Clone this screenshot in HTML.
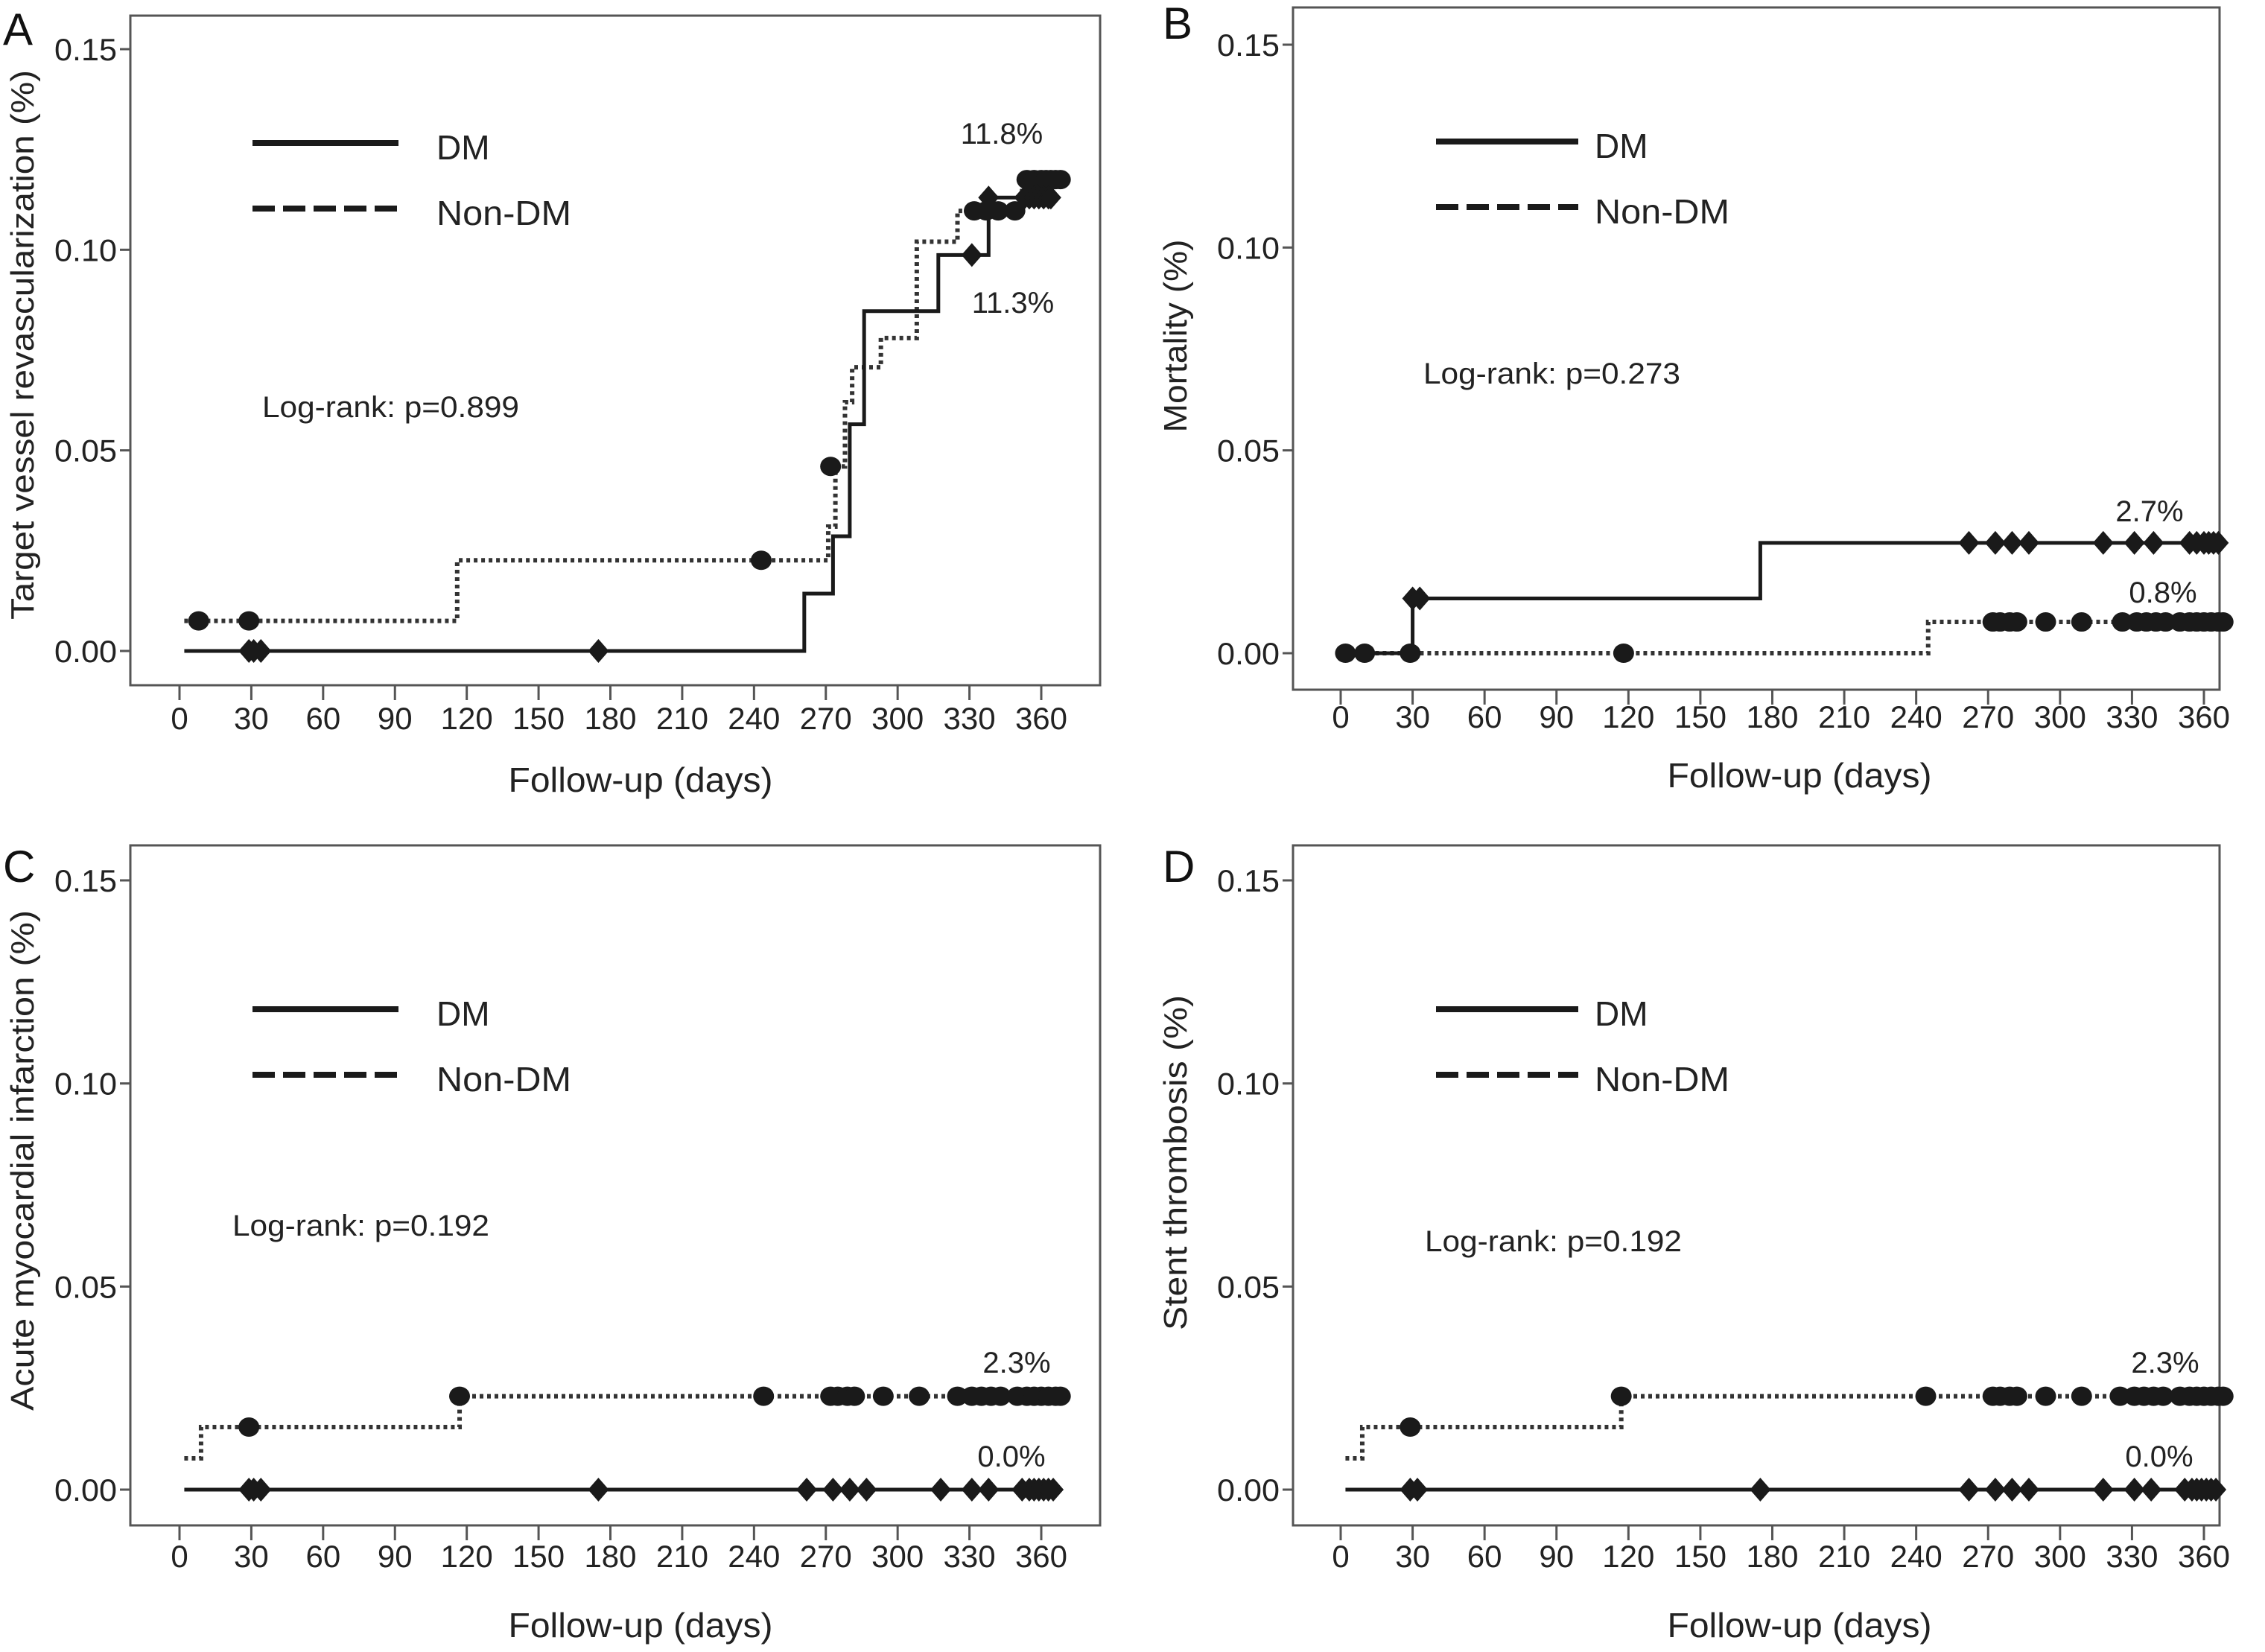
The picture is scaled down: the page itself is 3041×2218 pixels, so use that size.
<!DOCTYPE html>
<html><head><meta charset="utf-8"><style>
html,body{margin:0;padding:0;background:#fff;}
svg{display:block;font-family:"Liberation Sans",Arial,sans-serif;}
</style></head><body>
<svg id="fig" width="3041" height="2218" viewBox="0 0 3041 2218" xmlns="http://www.w3.org/2000/svg"></svg>
<script>
// ---- data ----
const xTicks = [0,30,60,90,120,150,180,210,240,270,300,330,360];
const yTicks = [0.00,0.05,0.10,0.15];
const yTickLabels = ["0.00","0.05","0.10","0.15"];

// Panel A: target vessel revascularization
const aDmTimes = [2,261,273,280,286,317,338];
const aDmValues = [0,0.0143,0.0286,0.0565,0.0847,0.0987,0.113];
const aDmEnd = 366;
const aDmCensorT = [29,31,34,175,331,338,353,355,357,359,361,363,364];
const aDmCensorV = [0,0,0,0,0.0987,0.113,0.113,0.113,0.113,0.113,0.113,0.113,0.113];
const aNonTimes = [2,116,271,274,278,281,293,308,325,352];
const aNonValues = [0.0075,0.0226,0.031,0.046,0.062,0.0707,0.078,0.102,0.1097,0.1175];
const aNonEnd = 369;
const aNonCensorT = [8,29,243,272,332,337,342,349,354,357,360,362,364,366,368];
const aNonCensorV = [0.0075,0.0075,0.0226,0.046,0.1097,0.1097,0.1097,0.1097,0.1175,0.1175,0.1175,0.1175,0.1175,0.1175,0.1175];

// Panel B: mortality
const bDmTimes = [2,30,175];
const bDmValues = [0,0.0135,0.0272];
const bDmEnd = 366;
const bDmCensorT = [30,33,262,273,280,287,318,331,339,354,357,360,362,364,366];
const bDmCensorV = [0.0135,0.0135,0.0272,0.0272,0.0272,0.0272,0.0272,0.0272,0.0272,0.0272,0.0272,0.0272,0.0272,0.0272,0.0272];
const bNonTimes = [2,245];
const bNonValues = [0,0.0077];
const bNonEnd = 368;
const bNonCensorT = [2,10,29,118,272,275,279,282,294,309,326,332,336,340,344,350,354,357,360,363,366,368];
const bNonCensorV = [0,0,0,0,0.0077,0.0077,0.0077,0.0077,0.0077,0.0077,0.0077,0.0077,0.0077,0.0077,0.0077,0.0077,0.0077,0.0077,0.0077,0.0077,0.0077,0.0077];

// Panel C: acute MI
const cDmTimes = [2];
const cDmValues = [0];
const cDmEnd = 366;
const cDmCensorT = [29,31,34,175,262,273,280,287,318,331,338,352,355,357,359,361,363,365];
const cDmCensorV = [0,0,0,0,0,0,0,0,0,0,0,0,0,0,0,0,0,0];
const cNonTimes = [2,9,117];
const cNonValues = [0.0077,0.0154,0.023];
const cNonEnd = 368;
const cNonCensorT = [29,117,244,272,275,279,282,294,309,325,331,335,339,343,350,354,357,360,363,366,368];
const cNonCensorV = [0.0154,0.023,0.023,0.023,0.023,0.023,0.023,0.023,0.023,0.023,0.023,0.023,0.023,0.023,0.023,0.023,0.023,0.023,0.023,0.023,0.023];

// Panel D: stent thrombosis
const dDmTimes = [2];
const dDmValues = [0];
const dDmEnd = 366;
const dDmCensorT = [29,32,175,262,273,280,287,318,331,338,352,355,357,359,361,363,365];
const dDmCensorV = [0,0,0,0,0,0,0,0,0,0,0,0,0,0,0,0,0];
const dNonTimes = [2,9,117];
const dNonValues = [0.0077,0.0154,0.023];
const dNonEnd = 368;
const dNonCensorT = [29,117,244,272,275,279,282,294,309,325,331,335,339,343,350,354,357,360,363,366,368];
const dNonCensorV = [0.0154,0.023,0.023,0.023,0.023,0.023,0.023,0.023,0.023,0.023,0.023,0.023,0.023,0.023,0.023,0.023,0.023,0.023,0.023,0.023,0.023];

const NS = "http://www.w3.org/2000/svg";
const svg = document.getElementById('fig');
function mk(tag, attrs, parent){
  const e = document.createElementNS(NS, tag);
  for (const k in attrs) e.setAttribute(k, attrs[k]);
  (parent||svg).appendChild(e);
  return e;
}
function txt(s, attrs, parent){ const e = mk('text', attrs, parent); e.textContent = s; return e; }

const panels = [
  {id:'a', letter:'A', L:175,T:21,R:1477,B:920, x0:241,x360:1398, y0:874,y15:66,
   ytitle:'Target vessel revascularization (%)', ytx:30, yty:463, ytLen:738,
   legX1:339, legX2:535, legY1:192, legY2:280, legTX:586,
   lrX:352, lrY:560, lr:'Log-rank: p=0.899',
   p1:'11.8%', p1x:1345,p1y:193, p2:'11.3%', p2x:1360,p2y:420,
   xtX:860, xtY:1063, tickY:979, letX:4, letY:60,
   dmT:aDmTimes,dmV:aDmValues,dmE:aDmEnd,dmCT:aDmCensorT,dmCV:aDmCensorV,
   nT:aNonTimes,nV:aNonValues,nE:aNonEnd,nCT:aNonCensorT,nCV:aNonCensorV},
  {id:'b', letter:'B', L:1736,T:10,R:2980,B:926, x0:1800,x360:2959, y0:877,y15:60,
   ytitle:'Mortality (%)', ytx:1578, yty:451, ytLen:259,
   legX1:1928, legX2:2119, legY1:190, legY2:278, legTX:2141,
   lrX:1911, lrY:515, lr:'Log-rank: p=0.273',
   p1:'2.7%', p1x:2886,p1y:700, p2:'0.8%', p2x:2904,p2y:809,
   xtX:2416, xtY:1057, tickY:977, letX:1561, letY:52,
   dmT:bDmTimes,dmV:bDmValues,dmE:bDmEnd,dmCT:bDmCensorT,dmCV:bDmCensorV,
   nT:bNonTimes,nV:bNonValues,nE:bNonEnd,nCT:bNonCensorT,nCV:bNonCensorV},
  {id:'c', letter:'C', L:175,T:1135,R:1477,B:2048, x0:241,x360:1398, y0:2000,y15:1182,
   ytitle:'Acute myocardial infarction (%)', ytx:30, yty:1558, ytLen:672,
   legX1:339, legX2:535, legY1:1355, legY2:1443, legTX:586,
   lrX:312, lrY:1659, lr:'Log-rank: p=0.192',
   p1:'2.3%', p1x:1365,p1y:1843, p2:'0.0%', p2x:1358,p2y:1969,
   xtX:860, xtY:2198, tickY:2104, letX:4, letY:1184,
   dmT:cDmTimes,dmV:cDmValues,dmE:cDmEnd,dmCT:cDmCensorT,dmCV:cDmCensorV,
   nT:cNonTimes,nV:cNonValues,nE:cNonEnd,nCT:cNonCensorT,nCV:cNonCensorV},
  {id:'d', letter:'D', L:1736,T:1135,R:2980,B:2048, x0:1800,x360:2959, y0:2000,y15:1182,
   ytitle:'Stent thrombosis (%)', ytx:1578, yty:1561, ytLen:450,
   legX1:1928, legX2:2119, legY1:1355, legY2:1443, legTX:2141,
   lrX:1913, lrY:1680, lr:'Log-rank: p=0.192',
   p1:'2.3%', p1x:2907,p1y:1843, p2:'0.0%', p2x:2899,p2y:1969,
   xtX:2416, xtY:2198, tickY:2104, letX:1561, letY:1184,
   dmT:dDmTimes,dmV:dDmValues,dmE:dDmEnd,dmCT:dDmCensorT,dmCV:dDmCensorV,
   nT:dNonTimes,nV:dNonValues,nE:dNonEnd,nCT:dNonCensorT,nCV:dNonCensorV}
];

function stepPath(times, vals, end, X, Y){
  let d = 'M' + X(times[0]) + ' ' + Y(vals[0]);
  for (let i=1;i<times.length;i++){ d += ' H' + X(times[i]) + ' V' + Y(vals[i]); }
  return d + ' H' + X(end);
}

panels.forEach(p => {
  const g = mk('g', {});
  
  
  const X = d => p.x0 + (p.x360 - p.x0) * d / 360;
  const Y = v => p.y0 - (p.y0 - p.y15) * v / 0.15;

  const fr = mk('rect', {x:p.L,y:p.T,width:p.R-p.L,height:p.B-p.T,fill:'none',stroke:'#555',"stroke-width":3}, g);
  
  

  const lt = txt(p.letter, {x:p.letX,y:p.letY,"font-size":60,fill:'#111'}, g);
  
  

  yTicks.forEach((v,i) => {
    const t = mk('line', {x1:p.L-14,x2:p.L,y1:Y(v),y2:Y(v),stroke:'#555',"stroke-width":3}, g);
    
    
    const l = txt(yTickLabels[i], {x:p.L-18,y:Y(v)+15,"text-anchor":'end',"font-size":42,fill:'#222',textLength:84,lengthAdjust:'spacingAndGlyphs'}, g);
    
    
  });
  xTicks.forEach(d => {
    const t = mk('line', {x1:X(d),x2:X(d),y1:p.B,y2:p.B+20,stroke:'#555',"stroke-width":3}, g);
    
    
    const l = txt(String(d), {x:X(d),y:p.tickY,"text-anchor":'middle',"font-size":42,fill:'#222'}, g);
    
    
  });

  const yt = txt(p.ytitle, {x:0,y:0,"text-anchor":'middle',"font-size":44,fill:'#222',transform:'translate('+(p.ytx+15)+','+p.yty+') rotate(-90)',textLength:p.ytLen,lengthAdjust:'spacingAndGlyphs'}, g);
  
  
  const xt = txt('Follow-up (days)', {x:p.xtX,y:p.xtY,"text-anchor":'middle',"font-size":46,fill:'#222',textLength:355,lengthAdjust:'spacingAndGlyphs'}, g);
  
  

  // legend
  const l1 = mk('line', {x1:p.legX1,x2:p.legX2,y1:p.legY1,y2:p.legY1,stroke:'#1a1a1a',"stroke-width":8}, g);
  
  
  const t1 = txt('DM', {x:p.legTX,y:p.legY1+22,"font-size":46,fill:'#222'}, g);
  
  
  const l2 = mk('line', {x1:p.legX1,x2:p.legX2,y1:p.legY2,y2:p.legY2,stroke:'#1a1a1a',"stroke-width":8,"stroke-dasharray":'30 11'}, g);
  
  
  const t2 = txt('Non-DM', {x:p.legTX,y:p.legY2+22,"font-size":46,fill:'#222',textLength:181,lengthAdjust:'spacingAndGlyphs'}, g);
  
  

  const lr = txt(p.lr, {x:p.lrX,y:p.lrY,"font-size":40,fill:'#222',textLength:345,lengthAdjust:'spacingAndGlyphs'}, g);
  
  
  const pa = txt(p.p1, {x:p.p1x,y:p.p1y,"text-anchor":'middle',"font-size":40,fill:'#222'}, g);
  
  
  const pb = txt(p.p2, {x:p.p2x,y:p.p2y,"text-anchor":'middle',"font-size":40,fill:'#222'}, g);
  
  

  // non-DM curve (dotted) + circle censors
  const nc = mk('path', {d:stepPath(p.nT,p.nV,p.nE,X,Y),fill:'none',stroke:'#333',"stroke-width":6,"stroke-dasharray":'5 5'}, g);
  
  
  p.nCT.forEach((t,i) => {
    const c = mk('ellipse', {cx:X(t),cy:Y(p.nCV[i]),rx:14,ry:13,fill:'#1a1a1a'}, g);
    
    
  });
  // DM curve (solid) + diamond censors
  const dc = mk('path', {d:stepPath(p.dmT,p.dmV,p.dmE,X,Y),fill:'none',stroke:'#1a1a1a',"stroke-width":5}, g);
  
  
  p.dmCT.forEach((t,i) => {
    const cx = X(t), cy = Y(p.dmCV[i]);
    const dm = mk('polygon', {points:(cx-14)+','+cy+' '+cx+','+(cy-16)+' '+(cx+14)+','+cy+' '+cx+','+(cy+16),fill:'#1a1a1a'}, g);
    
    
  });
});
</script>
</body></html>
